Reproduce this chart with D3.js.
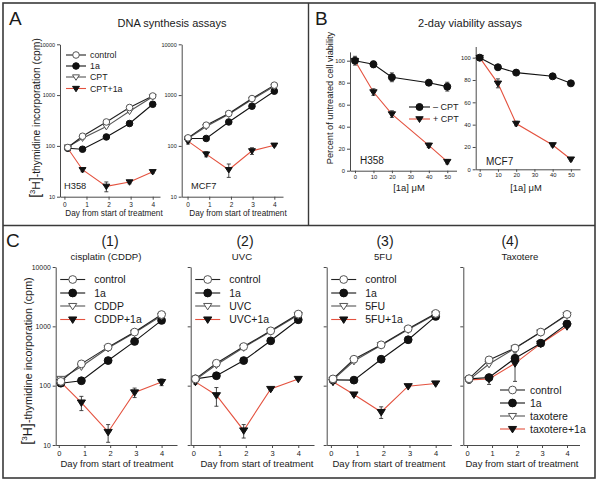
<!DOCTYPE html>
<html><head><meta charset="utf-8">
<script src="https://cdn.jsdelivr.net/npm/d3@7"></script>
<style>
body{margin:0;background:#fff}
svg{display:block}
text{font-family:"Liberation Sans",Arial,sans-serif;fill:#1a1a1a}
</style>
</head><body>
<svg id="chart" width="600" height="483"></svg>
<script>
// ---------------- data ----------------
const dayTicks = [0, 1, 2, 3, 4];
const logTicks = [10, 100, 1000, 10000];
const concTicks = [0, 10, 20, 30, 40, 50];
const pctTicks = [0, 20, 40, 60, 80, 100];

// Panel A – DNA synthesis (cpm)
const daysH358 = [0.15, 0.82, 1.9, 2.95, 4];
const h358Control = [93, 155, 296, 570, 960];
const h358_1a = [90, 86, 150, 276, 660];
const h358CPT = [95, 142, 240, 480, 930];
const h358CPT1a = [90, 34, 16, 19.5, 31];
const h358CPT1aErr = [4, 3, 3.5, 1.5, 2];

const daysMCF7 = [0.02, 0.86, 1.9, 2.97, 4];
const mcf7Control = [144, 256, 434, 855, 1570];
const mcf7_1a = [140, 140, 296, 605, 1195];
const mcf7CPT = [140, 240, 420, 820, 1500];
const mcf7CPT1a = [124, 69, 34, 80, 103];
const mcf7CPT1aErr = [15, 8, 10, 12, 5];

// Panel B – 2-day viability (%)
const conc = [0, 10, 20, 40, 50];
const bH358Minus = [100, 96.7, 84.9, 80, 76.4];
const bH358MinusErr = [4, 3, 4, 2, 4];
const bH358Plus = [100, 71.5, 51.5, 23, 8.2];
const bH358PlusErr = [0, 3, 3, 2, 2];
const bMCF7Minus = [100, 91.4, 86.6, 83.3, 77];
const bMCF7MinusErr = [2, 2, 1.5, 2, 2];
const bMCF7Plus = [100, 77, 41, 21.8, 9];
const bMCF7PlusErr = [0, 4, 2, 1.5, 1.5];

// Panel C – combinations (cpm)
const daysC = [0.08, 0.88, 1.92, 2.95, 4];
const c1Control = [118, 233, 446, 800, 1580];
const c1_1a = [110, 121, 265, 557, 1260];
const c1Drug = [130, 210, 430, 780, 1500];
const c1Combo = [115, 52, 16.6, 77, 115];
const c1ComboErr = [10, 14, 5.5, 14, 15];

const c2Control = [130, 239, 456, 840, 1610];
const c2_1a = [130, 147, 265, 570, 1290];
const c2Drug = [125, 225, 440, 820, 1550];
const c2Combo = [116, 69, 17.6, 88, 130];
const c2ComboErr = [10, 24, 4.5, 5, 5];

const c3Control = [130, 279, 488, 910, 1650];
const c3_1a = [125, 124, 279, 594, 1470];
const c3Drug = [125, 260, 480, 880, 1600];
const c3Combo = [116, 71, 36, 98, 109];
const c3ComboErr = [5, 5, 8, 5, 4];

const c4Control = [131, 272, 430, 800, 1590];
const c4_1a = [130, 137, 290, 520, 1100];
const c4Drug = [125, 232, 425, 790, 1550];
const c4Combo = [125, 130, 238, 510, 1000];
const c4ComboErr = [15, 25, 120, 20, 40];

// ---------------- drawing ----------------
const svg = d3.select("#chart");
const RED = "#e4523f";
const AX = "#4a4a4a";

function triDown(s) {
  const a = s, b = s * 0.62, c = s * 0.95;
  return `M${-a},${-b}L${a},${-b}L0,${c}Z`;
}

function marker(g, type, x, y, r) {
  if (type === "oc" || type === "fc") {
    g.append("circle").attr("cx", x).attr("cy", y).attr("r", r)
      .attr("fill", type === "oc" ? "#fff" : "#111")
      .attr("stroke", type === "oc" ? "#555" : "#111").attr("stroke-width", 1);
  } else {
    g.append("path").attr("d", triDown(r * 1.05)).attr("transform", `translate(${x},${y})`)
      .attr("fill", type === "ot" ? "#fff" : "#111")
      .attr("stroke", type === "ot" ? "#555" : "#111").attr("stroke-width", 1);
  }
}

function styleAxis(g, fs) {
  g.select(".domain").attr("stroke", AX).attr("stroke-width", 1);
  g.selectAll(".tick line").attr("stroke", AX);
  g.selectAll(".tick text").attr("fill", "#333").style("font-size", fs + "px")
    .style("font-family", '"Liberation Sans",Arial,sans-serif');
}

function plot(o) {
  const x = d3.scaleLinear().domain(o.xDom).range(o.xRange);
  const y = (o.log ? d3.scaleLog() : d3.scaleLinear()).domain(o.yDom).range(o.yRange);
  const g = svg.append("g");
  const yAxis = d3.axisLeft(y).tickValues(o.yTicks).tickSize(3).tickSizeOuter(0).tickPadding(2)
    .tickFormat(o.showY ? d3.format("d") : () => "");
  const gy = g.append("g").attr("transform", `translate(${o.xRange[0]},0)`).call(yAxis);
  styleAxis(gy, o.yfs);
  const xAxis = d3.axisBottom(x).tickValues(o.xTicks).tickSize(o.xts || 3).tickSizeOuter(0)
    .tickPadding(o.xpad == null ? 3 : o.xpad).tickFormat(d3.format("d"));
  const gx = g.append("g").attr("transform", `translate(0,${o.yRange[0]})`).call(xAxis);
  styleAxis(gx, o.xfs);

  const line = d3.line().x(d => x(d[0])).y(d => y(d[1]));
  o.series.forEach(s => {
    g.append("path").datum(s.xs.map((v, i) => [v, s.vals[i]]))
      .attr("d", line).attr("fill", "none")
      .attr("stroke", s.color).attr("stroke-width", s.lw || 1.1);
  });
  o.series.forEach(s => {
    if (s.err) {
      s.xs.forEach((v, i) => {
        const e = s.err[i];
        if (!e) return;
        const cx = x(v), y1 = y(s.vals[i] + e), y2 = y(Math.max(s.vals[i] - e, o.log ? 1 : 0));
        g.append("line").attr("x1", cx).attr("x2", cx).attr("y1", y1).attr("y2", y2)
          .attr("stroke", "#333").attr("stroke-width", 0.9);
        [y1, y2].forEach(yy => g.append("line").attr("x1", cx - 2).attr("x2", cx + 2)
          .attr("y1", yy).attr("y2", yy).attr("stroke", "#333").attr("stroke-width", 0.9));
      });
    }
  });
  o.series.forEach(s => {
    s.xs.forEach((v, i) => marker(g, s.type, x(v), y(s.vals[i]), o.r));
  });
  return g;
}

function legend(items, lx0, lx1, tx, ys, fs, r) {
  items.forEach((it, i) => {
    svg.append("line").attr("x1", lx0).attr("x2", lx1).attr("y1", ys[i]).attr("y2", ys[i])
      .attr("stroke", it.color).attr("stroke-width", 1.1);
    marker(svg, it.type, (lx0 + lx1) / 2, ys[i], r);
    svg.append("text").attr("x", tx).attr("y", ys[i]).attr("dy", "0.36em")
      .style("font-size", fs + "px").text(it.label);
  });
}

function txt(x, y, s, fs, anchor) {
  return svg.append("text").attr("x", x).attr("y", y).style("font-size", fs + "px")
    .attr("text-anchor", anchor || "start").text(s);
}

function cpmLabel(cx, cy, fs) {
  const t = svg.append("text").attr("transform", `translate(${cx},${cy}) rotate(-90)`)
    .attr("text-anchor", "middle").style("font-size", fs + "px");
  t.append("tspan").style("font-size", (fs * 1.35) + "px").text("[");
  t.append("tspan").attr("dy", -fs * 0.45).style("font-size", (fs * 0.75) + "px").text("3");
  t.append("tspan").attr("dy", fs * 0.45).style("font-size", (fs * 1.15) + "px").text("H");
  t.append("tspan").style("font-size", (fs * 1.35) + "px").text("]");
  t.append("tspan").text("-thymidine incorporation (cpm)");
}

// ---- frame ----
svg.append("rect").attr("x", 3).attr("y", 3).attr("width", 592).attr("height", 475)
  .attr("fill", "none").attr("stroke", "#3a3a3a").attr("stroke-width", 1.6);
svg.append("line").attr("x1", 3).attr("x2", 595).attr("y1", 225.5).attr("y2", 225.5)
  .attr("stroke", "#3a3a3a").attr("stroke-width", 1.4);
svg.append("line").attr("x1", 308.5).attr("x2", 308.5).attr("y1", 3).attr("y2", 225.5)
  .attr("stroke", "#3a3a3a").attr("stroke-width", 1.4);

// ---- Panel A ----
txt(9, 25, "A", 19);
txt(172, 27, "DNA synthesis assays", 11, "middle");
cpmLabel(40, 118, 10.3);

function seriesA(xs, c, a, d, cb, cbErr) {
  return [
    {xs, vals: cb, err: cbErr, type: "ft", color: RED},
    {xs, vals: a, type: "fc", color: "#111"},
    {xs, vals: d, type: "ot", color: "#555"},
    {xs, vals: c, type: "oc", color: "#222"}
  ];
}
plot({log: true, xDom: [-0.2, 4.33], xRange: [60, 160], yDom: [10, 10000], yRange: [196.7, 44.3],
  yTicks: logTicks, xTicks: dayTicks, showY: true, yfs: 5.5, xfs: 6.5, r: 3.3,
  series: seriesA(daysH358, h358Control, h358_1a, h358CPT, h358CPT1a, h358CPT1aErr)});
plot({log: true, xDom: [-0.27, 4.4], xRange: [181.7, 283], yDom: [10, 10000], yRange: [196.7, 44.3],
  yTicks: logTicks, xTicks: dayTicks, showY: true, yfs: 5.5, xfs: 6.5, r: 3.3,
  series: seriesA(daysMCF7, mcf7Control, mcf7_1a, mcf7CPT, mcf7CPT1a, mcf7CPT1aErr)});
legend([
  {label: "control", type: "oc", color: "#222"},
  {label: "1a", type: "fc", color: "#111"},
  {label: "CPT", type: "ot", color: "#555"},
  {label: "CPT+1a", type: "ft", color: RED}
], 66, 86, 90, [55, 66, 77, 88.5], 8.8, 3.3);
txt(64, 189, "H358", 9.3);
txt(191, 189, "MCF7", 9.3);
txt(114, 216, "Day from start of treatment", 8.2, "middle");
txt(238, 216, "Day from start of treatment", 8.2, "middle");

// ---- Panel B ----
txt(315, 25, "B", 19);
txt(470, 27, "2-day viability assays", 11, "middle");
svg.append("text").attr("transform", "translate(333,98) rotate(-90)").attr("text-anchor", "middle")
  .style("font-size", "9.2px").text("Percent of untreated cell viability");
function seriesB(m, mErr, p, pErr) {
  return [
    {xs: conc, vals: p, err: pErr, type: "ft", color: RED},
    {xs: conc, vals: m, err: mErr, type: "fc", color: "#111"}
  ];
}
plot({log: false, xDom: [-2.7, 55], xRange: [350, 456.5], yDom: [0, 108], yRange: [170.7, 51.9],
  yTicks: pctTicks, xTicks: concTicks, showY: true, yfs: 5.8, xfs: 5.8, r: 3.5, xts: 2.5, xpad: 1.5,
  series: seriesB(bH358Minus, bH358MinusErr, bH358Plus, bH358PlusErr)});
plot({log: false, xDom: [-2.2, 55], xRange: [475.7, 580], yDom: [0, 110], yRange: [169.3, 46.5],
  yTicks: pctTicks, xTicks: concTicks, showY: true, yfs: 5.8, xfs: 5.8, r: 3.5, xts: 2.5, xpad: 1.5,
  series: seriesB(bMCF7Minus, bMCF7MinusErr, bMCF7Plus, bMCF7PlusErr)});
legend([
  {label: "– CPT", type: "fc", color: "#111"},
  {label: "+ CPT", type: "ft", color: RED}
], 409, 430, 433, [107, 119], 9, 3.5);
txt(360, 164, "H358", 10);
txt(486, 165, "MCF7", 10);
txt(409, 191, "[1a] μM", 9.4, "middle");
txt(526, 191, "[1a] μM", 9.4, "middle");

// ---- Panel C ----
txt(6, 247, "C", 19);
cpmLabel(32, 361, 10.8);
const cPanels = [
  {axisX: 55.7, dom: [-0.12, 4.6], end: 177, num: "(1)", numX: 110, sub: "cisplatin (CDDP)", subX: 106, labX: 117,
   drug: "CDDP", data: [c1Control, c1_1a, c1Drug, c1Combo, c1ComboErr], showY: true},
  {axisX: 190.7, dom: [-0.1, 4.6], end: 314, num: "(2)", numX: 245, sub: "UVC", subX: 242, labX: 257,
   drug: "UVC", data: [c2Control, c2_1a, c2Drug, c2Combo, c2ComboErr], showY: false},
  {axisX: 326.7, dom: [-0.16, 4.6], end: 451.4, num: "(3)", numX: 385, sub: "5FU", subX: 383, labX: 389,
   drug: "5FU", data: [c3Control, c3_1a, c3Drug, c3Combo, c3ComboErr], showY: false},
  {axisX: 463.3, dom: [-0.15, 4.5], end: 579.5, num: "(4)", numX: 510, sub: "Taxotere", subX: 520, labX: 522,
   drug: "taxotere", data: [c4Control, c4_1a, c4Drug, c4Combo, c4ComboErr], showY: false}
];
cPanels.forEach((p, k) => {
  const [c, a, d, cb, cbe] = p.data;
  plot({log: true, xDom: p.dom, xRange: [p.axisX, p.end], yDom: [10, 10000], yRange: [445, 267],
    yTicks: logTicks, xTicks: dayTicks, showY: p.showY, yfs: 6.8, xfs: 7.5, r: 3.9,
    series: [
      {xs: daysC, vals: cb, err: cbe, type: "ft", color: RED},
      {xs: daysC, vals: a, type: "fc", color: "#111"},
      {xs: daysC, vals: d, type: "ot", color: "#555"},
      {xs: daysC, vals: c, type: "oc", color: "#222"}
    ]});
  txt(p.numX, 246, p.num, 14, "middle");
  txt(p.subX, 260, p.sub, 9.6, "middle");
  txt(p.labX, 467, "Day from start of treatment", 9.5, "middle");
  const items = [
    {label: "control", type: "oc", color: "#222"},
    {label: "1a", type: "fc", color: "#111"},
    {label: p.drug, type: "ot", color: "#555"},
    {label: p.drug + "+1a", type: "ft", color: RED}
  ];
  if (k < 3) {
    const lx = p.axisX + 4.5;
    legend(items, lx, lx + 25, lx + 34, [279.5, 293, 306, 319.5], 10.5, 3.9);
  } else {
    legend(items, 500, 525, 530, [390, 403, 416, 429], 10.5, 3.9);
  }
});
</script>
</body></html>
